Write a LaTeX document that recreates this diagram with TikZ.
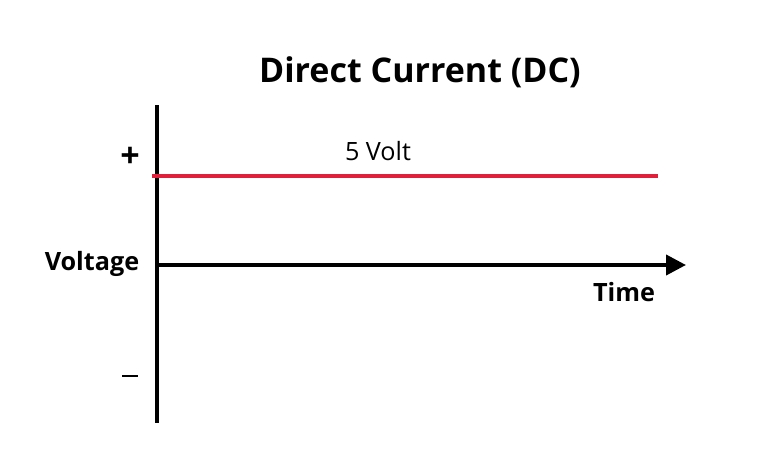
\documentclass[tikz,border=0pt]{standalone}
\usepackage{fontspec}
\setmainfont{Open Sans}
\usetikzlibrary{arrows.meta}
\definecolor{dcred}{HTML}{E0203A}
\begin{document}
\begin{tikzpicture}[x=0.5pt,y=-0.5pt,
		axis/.style = {line width=2pt, black},
		label/.style = {font=\bfseries\fontsize{12.6}{15}\selectfont, inner sep=0pt},
	]
	\useasboundingbox (0,0) rectangle (768,466);
	% title and labels
	\node [font=\bfseries\fontsize{17}{20}\selectfont] (title) at (420,72) {Direct Current (DC)};
	\node [label, font=\bfseries\fontsize{17}{20}\selectfont] (plus) at (130,157) {+};
	\node [fill=black, minimum width=8pt, minimum height=1.4pt, inner sep=0pt] (minus) at (130,376) {};
	\node [label] (voltage) at (92,264) {Voltage};
	\node [label] (time) at (624,292) {Time};
	\node [font=\fontsize{12.6}{15}\selectfont, inner sep=0pt] (volt) at (378,151) {5 Volt};
	% axes
	\coordinate (ytop) at (157,105);
	\coordinate (ybot) at (157,423);
	\coordinate (xorg) at (155,265);
	\coordinate (xend) at (686,265);
	\draw [axis] (ytop) -- (ybot);
	\draw [axis, -{Triangle[length=10pt,width=10pt]}] (xorg) -- (xend);
	% signal
	\coordinate (sstart) at (152,176);
	\coordinate (send) at (658,176);
	\draw [line width=2pt, dcred] (sstart) -- (send);
\end{tikzpicture}
\end{document}
